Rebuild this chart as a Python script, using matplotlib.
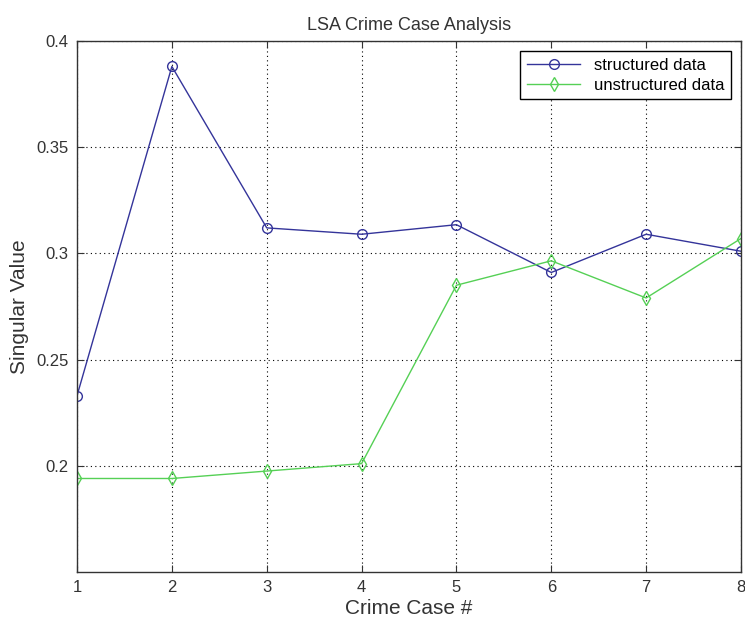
import numpy as np
import matplotlib.pyplot as plt

plt.rcParams['font.family'] = ['Liberation Sans', 'DejaVu Sans']

cases = [1, 2, 3, 4, 5, 6, 7, 8]
structured = [0.233, 0.388, 0.312, 0.309, 0.3135, 0.291, 0.309, 0.301]
unstructured = [0.194, 0.194, 0.1975, 0.201, 0.285, 0.2965, 0.279, 0.307]
y_ticks = [0.2, 0.25, 0.3, 0.35, 0.4]

fig = plt.figure(figsize=(7.45, 6.21), dpi=100)
ax = fig.add_axes([0.1034, 0.079, 0.8912, 0.855])

ax.plot(cases, structured, color='#34349a', marker='o', markersize=7,
        markerfacecolor='none', markeredgewidth=1.0, linewidth=1.0,
        label='structured data')
ax.plot(cases, unstructured, color='#55d055', marker='d', markersize=7,
        markerfacecolor='none', markeredgewidth=1.0, linewidth=1.0,
        label='unstructured data')

ax.set_xlim(1, 8)
ax.set_ylim(0.15, 0.4)
ax.set_xticks(cases)
ax.set_yticks(y_ticks)
ax.set_yticklabels(['0.2', '0.25', '0.3', '0.35', '0.4'])
ax.tick_params(direction='in', top=True, right=True, length=5,
               labelsize=12, colors='#333333', pad=6)
ax.grid(True, linestyle=(0, (1, 3)), color='black', linewidth=0.8)
for s in ax.spines.values():
    s.set_color('#333333')
    s.set_linewidth(1.0)

ax.set_title('LSA Crime Case Analysis', fontsize=13, color='#333333', pad=8)
ax.set_xlabel('Crime Case #', fontsize=15, color='#333333', labelpad=3)
ax.set_ylabel('Singular Value', fontsize=15, color='#333333', labelpad=5)

leg = ax.legend(loc='upper right', fontsize=12, handlelength=3.2,
                fancybox=False, framealpha=1, edgecolor='black',
                borderaxespad=0.6, labelspacing=0.3)
leg.get_frame().set_linewidth(1.0)

fig.savefig('out.png', dpi=100)
